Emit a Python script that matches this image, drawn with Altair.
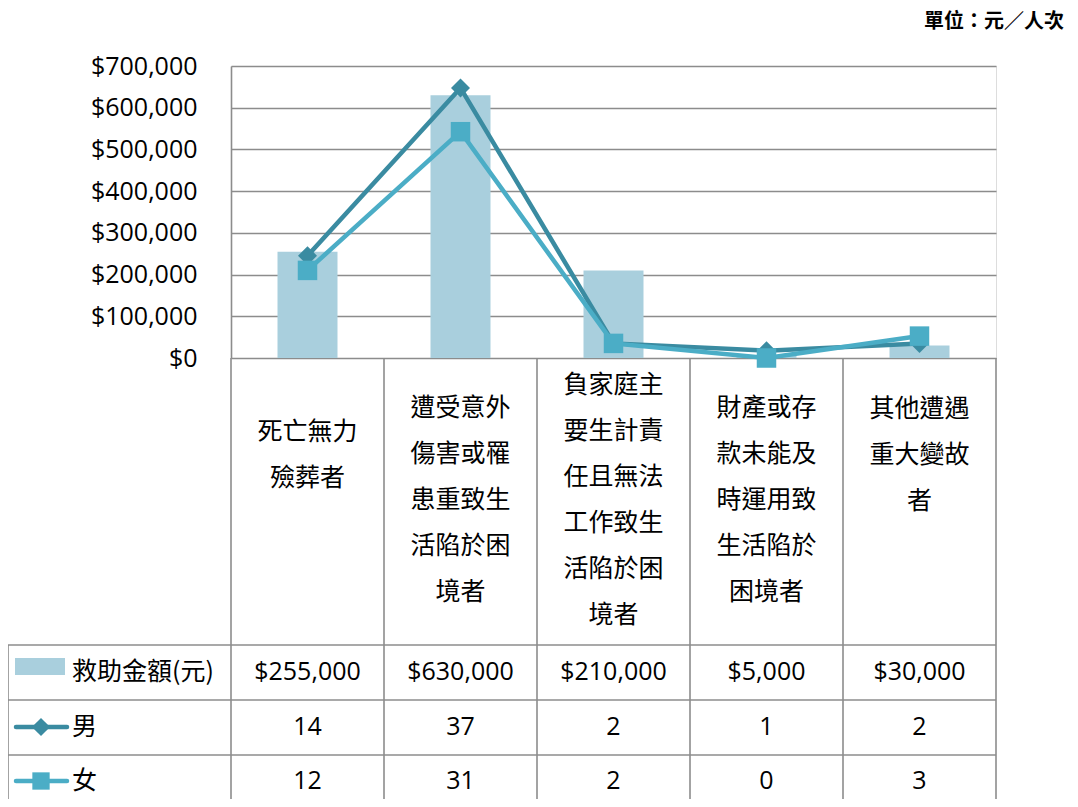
import altair as alt
import pandas as pd

categories = [
    "死亡無力\n殮葬者",
    "遭受意外\n傷害或罹\n患重致生\n活陷於困\n境者",
    "負家庭主\n要生計責\n任且無法\n工作致生\n活陷於困\n境者",
    "財產或存\n款未能及\n時運用致\n生活陷於\n困境者",
    "其他遭遇\n重大變故\n者",
]
amounts = [255000, 630000, 210000, 5000, 30000]
male = [14, 37, 2, 1, 2]
female = [12, 31, 2, 0, 3]
series_names = ["救助金額(元)", "男", "女"]
unit_label = "單位：元／人次"

BAR = "#A9CFDD"
MALE = "#3A8BA1"
FEMALE = "#4BADC6"
GRID = "#8C8C8C"
FONT = "Noto Sans CJK TC"
NUMFONT = "Open Sans"

W, H = 765, 292
BOTTOM = 441  # drawing extends below the plot area (the data table)
TABLE_BOTTOM = H + BOTTOM

df = pd.DataFrame({"cat": categories, "amount": amounts, "male": male, "female": female})
df["order"] = range(len(df))

xenc = alt.X("cat:N", sort=categories, axis=None,
             scale=alt.Scale(paddingInner=0, paddingOuter=0))

base = alt.Chart(df)

bars = base.mark_bar(color=BAR, size=60).encode(
    x=xenc,
    y=alt.Y("amount:Q",
            scale=alt.Scale(domain=[0, 700000], nice=False),
            axis=alt.Axis(orient="left", values=list(range(0, 700001, 100000)),
                          format="$,.0f", grid=True, gridColor=GRID, gridWidth=1.6,
                          ticks=False, domain=True, domainColor=GRID, domainWidth=1.6,
                          labelFont=NUMFONT, labelFontSize=25, labelColor="#000",
                          labelPadding=34, title=None)),
)

yr = alt.Scale(domain=[0, 40], nice=False)
male_line = base.mark_line(color=MALE, strokeWidth=4.5).encode(
    x=xenc,
    y=alt.Y("male:Q", scale=yr,
            axis=alt.Axis(orient="right", values=list(range(0, 41, 5)),
                          labelExpr="datum.value == 0 ? '-' : datum.value",
                          grid=False, ticks=True, tickSize=7, tickColor=GRID, tickWidth=1.6,
                          domain=True, domainColor=GRID, domainWidth=1.6,
                          labelFont=NUMFONT, labelFontSize=25, labelColor="#000",
                          labelPadding=6, title=None)),
)
male_pts = base.mark_point(shape="diamond", size=360, filled=True, opacity=1, color=MALE).encode(
    x=xenc, y=alt.Y("male:Q", scale=yr, axis=None))
female_line = base.mark_line(color=FEMALE, strokeWidth=4.5).encode(
    x=xenc, y=alt.Y("female:Q", scale=yr, axis=None))
female_pts = base.mark_point(shape="square", size=380, filled=True, opacity=1, color=FEMALE).encode(
    x=xenc, y=alt.Y("female:Q", scale=yr, axis=None))

lines = alt.layer(male_line, male_pts, female_line, female_pts)

# ---- data table below the plot ----
# first-line position: block centred lower for long labels, higher for short ones
cat_labels = base.transform_calculate(
    n="length(split(datum.cat, '\\n'))"
).transform_calculate(
    yy="(datum.n >= 5 ? 434 : 389) - (datum.n - 1) * 23"
).mark_text(
    font=FONT, fontSize=25, lineBreak="\n", lineHeight=46, baseline="middle", color="#000"
).encode(x=xenc, y=alt.Y("yy:Q", scale=None), text="cat:N")

row_y = [606, 661, 715]
amt_txt = base.mark_text(font=NUMFONT, fontSize=25, color="#000", baseline="middle").encode(
    x=xenc, y=alt.value(row_y[0]), text=alt.Text("amount:Q", format="$,.0f"))
male_txt = base.mark_text(font=NUMFONT, fontSize=25, color="#000", baseline="middle").encode(
    x=xenc, y=alt.value(row_y[1]), text="male:Q")
female_txt = base.mark_text(font=NUMFONT, fontSize=25, color="#000", baseline="middle").encode(
    x=xenc, y=alt.value(row_y[2]), text="female:Q")

vrules = base.mark_rule(color=GRID, strokeWidth=1.6).encode(
    x=alt.X("cat:N", sort=categories, axis=None, bandPosition=0,
            scale=alt.Scale(paddingInner=0, paddingOuter=0)),
    y=alt.value(H), y2=alt.value(TABLE_BOTTOM))
vrule_end = base.transform_filter(alt.datum.order == len(categories) - 1).mark_rule(
    color=GRID, strokeWidth=1.6).encode(
    x=alt.X("cat:N", sort=categories, axis=None, bandPosition=1,
            scale=alt.Scale(paddingInner=0, paddingOuter=0)),
    y=alt.value(H), y2=alt.value(TABLE_BOTTOM))

one = alt.Chart(pd.DataFrame({"k": [0]}))


def hline(yv):
    return one.mark_rule(color=GRID, strokeWidth=1.6).encode(
        x=alt.value(-223), x2=alt.value(W), y=alt.value(yv))


table_lines = alt.layer(
    hline(579), hline(634), hline(689),
    one.mark_rule(color=GRID, strokeWidth=1.6).encode(
        x=alt.value(-223), y=alt.value(579), y2=alt.value(TABLE_BOTTOM)),
)

leg_df = pd.DataFrame({"name": series_names})
leg_text = alt.Chart(leg_df).transform_window(i="row_number()").transform_calculate(
    yy="datum.i == 1 ? 606 : (datum.i == 2 ? 661 : 715)").mark_text(
    font=FONT, fontSize=25, align="left", baseline="middle", color="#000").encode(
    x=alt.value(-159), y=alt.Y("yy:Q", scale=None), text="name:N")

leg_bar = one.mark_rect(color=BAR).encode(
    x=alt.value(-216), x2=alt.value(-166), y=alt.value(592), y2=alt.value(609))
leg_male_line = one.mark_rule(color=MALE, strokeWidth=4.5, strokeCap="round").encode(
    x=alt.value(-215), x2=alt.value(-164), y=alt.value(661))
leg_male_pt = one.mark_point(shape="diamond", size=330, filled=True, opacity=1, color=MALE).encode(
    x=alt.value(-190), y=alt.value(661))
leg_fem_line = one.mark_rule(color=FEMALE, strokeWidth=4.5, strokeCap="round").encode(
    x=alt.value(-215), x2=alt.value(-164), y=alt.value(715))
leg_fem_pt = one.mark_point(shape="square", size=300, filled=True, opacity=1, color=FEMALE).encode(
    x=alt.value(-190), y=alt.value(715))

unit = one.mark_text(font="Noto Sans CJK TC", fontWeight="bold", fontSize=20, align="right",
                     baseline="middle", color="#000", text=unit_label).encode(
    x=alt.value(833), y=alt.value(-44))

chart = alt.layer(
    bars, lines,
    vrules, vrule_end, table_lines,
    cat_labels, amt_txt, male_txt, female_txt,
    leg_text, leg_bar, leg_male_line, leg_male_pt, leg_fem_line, leg_fem_pt,
    unit,
).resolve_scale(y="independent").properties(
    width=W, height=H,
    autosize=alt.AutoSizeParams(type="none"),
    padding={"left": 223, "top": 58, "right": 74, "bottom": BOTTOM},
).configure_view(stroke=None).configure(background="white")

chart.save("out.html", embed_options={"renderer": "svg", "actions": False})
